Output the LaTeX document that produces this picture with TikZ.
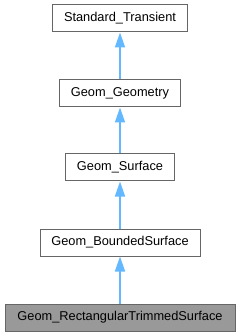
\documentclass[tikz,border=0pt]{standalone}
\usepackage{fontspec}
\setmainfont{Liberation Sans}
\usetikzlibrary{arrows.meta}
\definecolor{edgeblue}{HTML}{63B8FF}
\definecolor{boxborder}{HTML}{666666}
\definecolor{hlfill}{HTML}{999999}
\begin{document}
\begin{tikzpicture}[x=1pt,y=-1pt,
  cls/.style={draw=boxborder,fill=white,line width=1pt,inner sep=0pt,
    font=\fontsize{12.8}{15}\selectfont,text=black},
  hl/.style={cls,fill=hlfill},
  inh/.style={draw=edgeblue,line width=1.6pt,
    -{Triangle[length=15pt,width=10pt,fill=edgeblue]}}]
\useasboundingbox (0,0) rectangle (240,336);
\node[cls,minimum width=135pt,minimum height=27pt] (st) at (120,18.5) {Standard\_Transient};
\node[cls,minimum width=121pt,minimum height=27pt] (gg) at (120,93.5) {Geom\_Geometry};
\node[cls,minimum width=109pt,minimum height=27pt] (gs) at (120,167.5) {Geom\_Surface};
\node[cls,minimum width=160pt,minimum height=27pt] (gb) at (120,242.5) {Geom\_BoundedSurface};
\node[hl,minimum width=230pt,minimum height=27pt] (gr) at (120,317.5) {Geom\_RectangularTrimmedSurface};
\draw[inh] (gg.north) -- (st.south);
\draw[inh] (gs.north) -- (gg.south);
\draw[inh] (gb.north) -- (gs.south);
\draw[inh] (gr.north) -- (gb.south);
\end{tikzpicture}
\end{document}
